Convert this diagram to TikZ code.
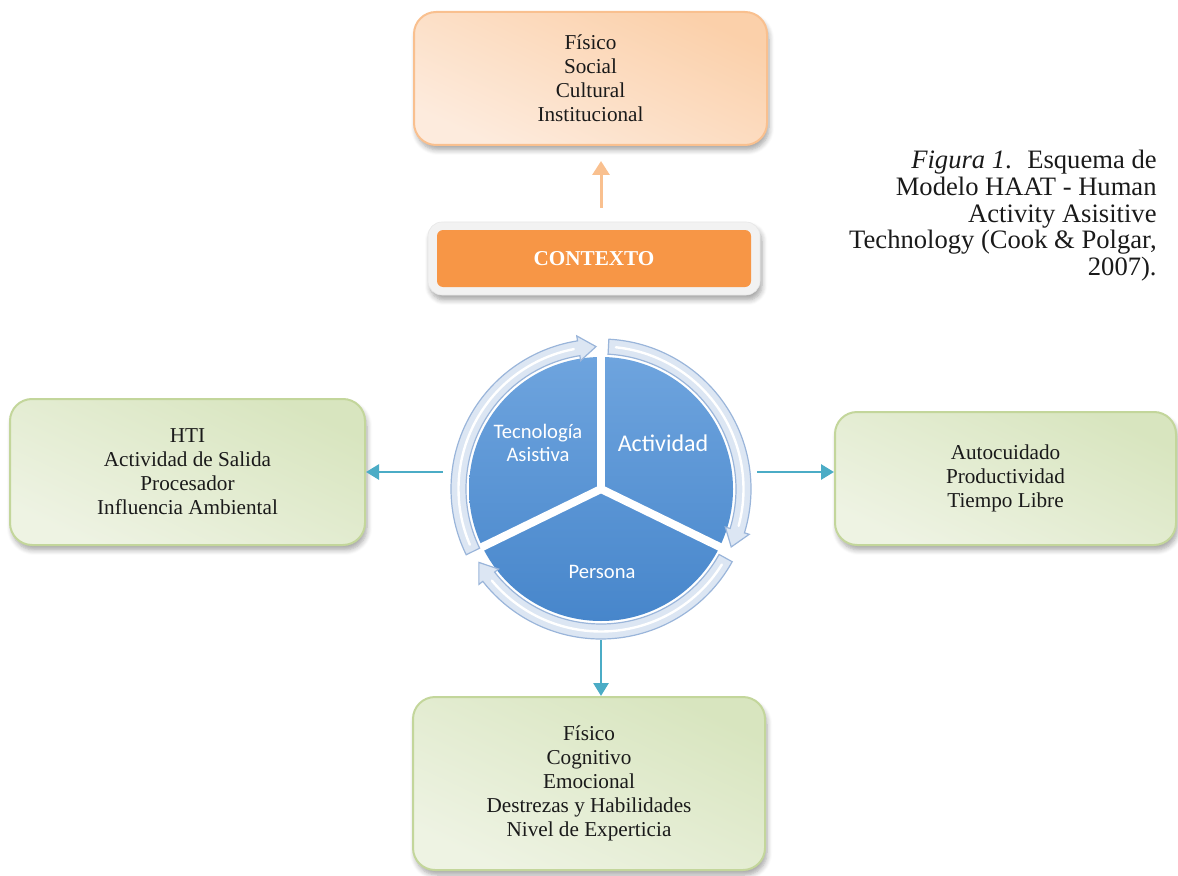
\documentclass[tikz,border=0pt]{standalone}
\usepackage{fontspec}
\setmainfont{Liberation Serif}
\newfontfamily\segfont{Carlito}
\usetikzlibrary{arrows.meta,shadows.blur}

\definecolor{orfill}{HTML}{FDEBDD}
\definecolor{ordark}{HTML}{FBD0AA}
\definecolor{oredge}{HTML}{F9C08F}
\definecolor{ctxorange}{HTML}{F79646}
\definecolor{ctxgray}{HTML}{F2F2F2}
\definecolor{grfill}{HTML}{EEF3E3}
\definecolor{grdark}{HTML}{D8E5BF}
\definecolor{gredge}{HTML}{C3D69B}
\definecolor{teal}{HTML}{4BACC6}
\definecolor{pietop}{HTML}{6EA4DE}
\definecolor{piebot}{HTML}{4786CB}
\definecolor{ringfill}{HTML}{DCE6F3}
\definecolor{ringedge}{HTML}{9AB5DA}
\definecolor{ink}{HTML}{1A1A1A}

\tikzset{
  softshadow/.style={blur shadow={shadow xshift=1pt, shadow yshift=-2.5pt,
      shadow blur steps=6, shadow blur radius=2.5pt, shadow opacity=35}},
  boxtext/.style={font=\fontsize{10.6}{12}\selectfont, text=ink, align=center},
  orangebox/.style={boxtext, rectangle, rounded corners=11pt, draw=oredge,
      line width=1pt, top color=ordark, bottom color=orfill, shading angle=-25,
      softshadow},
  greenbox/.style={boxtext, rectangle, rounded corners=11pt, draw=gredge,
      line width=1pt, top color=grdark, bottom color=grfill, shading angle=-25,
      softshadow},
  ctxouter/.style={rectangle, rounded corners=7pt, fill=ctxgray, draw=ctxgray!90!gray,
      line width=0.3pt, softshadow},
  ctxinner/.style={rectangle, rounded corners=3pt, fill=ctxorange,
      font=\fontsize{10.6}{12}\selectfont\bfseries, text=white},
  tealarrow/.style={draw=teal, line width=1.4pt,
      -{Triangle[length=6.5pt,width=7.5pt]}},
  orangearrow/.style={draw=oredge, line width=1.5pt,
      -{Triangle[length=7pt,width=8.5pt]}},
  segtext/.style={text=white, align=center, font=\segfont\fontsize{10.3}{11.5}\selectfont},
  ring/.style={fill=ringfill, draw=ringedge, line width=0.6pt},
  captext/.style={font=\fontsize{13.3}{13.3}\selectfont, text=ink, align=right,
      inner sep=0pt},
}

% curved ring arrow, running clockwise from angle #1 to its tip at angle #2
\newcommand\ringarrow[2]{%
  \filldraw[ring] (#1:150) arc[start angle=#1, end angle={#2+7}, radius=150]
    -- ({#2+7}:155) -- (#2:142.5) -- ({#2+7}:130) -- ({#2+7}:135)
    arc[start angle={#2+7}, end angle=#1, radius=135] -- cycle;
  \draw[white, line width=1.2pt, line cap=round]
    ({#1-3}:142.5) arc[start angle={#1-3}, end angle={#2+9}, radius=142.5];}

\begin{document}
\begin{tikzpicture}[x=0.5pt,y=0.5pt]
\useasboundingbox (0,0) rectangle (1178,875);

% context box and its content
\node[orangebox, minimum width=176.5pt, minimum height=66.5pt] (ctxlist) at (590.5,796.5)
  {Físico\\Social\\Cultural\\Institucional};
\node[ctxouter, minimum width=166pt, minimum height=36.5pt] (ctxframe) at (594,616.5) {};
\node[ctxinner, minimum width=157pt, minimum height=28.5pt] (ctx) at (594,616.5) {CONTEXTO};

% cycle of the three components
\node[circle, minimum size=153pt, inner sep=0pt] (cycle) at (601,386) {};
\begin{scope}[shift={(cycle.center)}]
  \shade[top color=pietop, bottom color=piebot] (0,0) circle[radius=132];
  \foreach \a in {90,-26,206}
    \draw[white, line width=4pt] (0,0) -- (\a:133);
  \ringarrow{206}{92}
  \ringarrow{87}{-24}
  \ringarrow{-29}{-149}
  \node[segtext] (tech) at (-63,46) {Tecnología\\Asistiva};
  \node[segtext, font=\segfont\fontsize{12}{14}\selectfont] (act) at (62,46) {Actividad};
  \node[segtext] (pers) at (1,-83) {Persona};
\end{scope}

% surrounding boxes
\node[greenbox, minimum width=177.5pt, minimum height=73pt] (hti) at (187.5,403)
  {HTI\\Actividad de Salida\\Procesador\\Influencia Ambiental};
\node[greenbox, minimum width=170.5pt, minimum height=66.5pt] (occup) at (1005.5,396.5)
  {Autocuidado\\Productividad\\Tiempo Libre};
\node[greenbox, minimum width=176pt, minimum height=86.5pt] (human) at (589,91.5)
  {Físico\\Cognitivo\\Emocional\\Destrezas y Habilidades\\Nivel de Experticia};

% connectors
\draw[orangearrow, shorten <=7pt, shorten >=7.5pt] (ctxframe.north -| cycle) -- (ctxlist.south -| cycle);
\draw[tealarrow] (cycle.west |- hti.east) ++(-5,0) -- (hti.east);
\draw[tealarrow] (cycle.east |- hti.east) ++(3,0) -- (occup.west |- hti.east);
\draw[tealarrow] (cycle.south) ++(0,2) -- (cycle.south |- human.north);

% caption
\node[captext, anchor=north east] (caption) at (1157,725)
  {\textit{Figura 1}.~ Esquema de\\Modelo HAAT - Human\\Activity Asisitive\\Technology (Cook \& Polgar,\\2007).};
\end{tikzpicture}
\end{document}
